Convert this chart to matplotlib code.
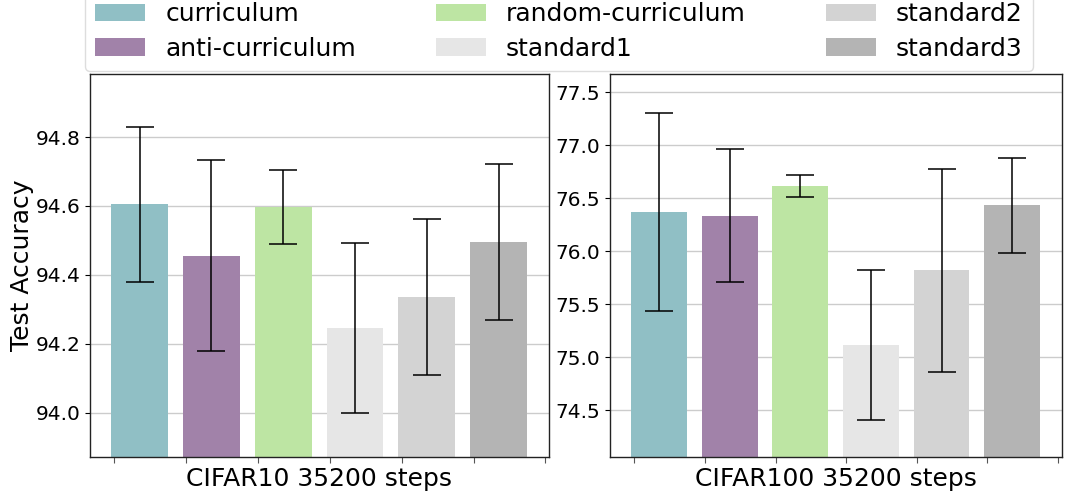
import matplotlib
matplotlib.use("Agg")
import matplotlib.pyplot as plt
import numpy as np

methods = ["curriculum", "anti-curriculum", "random-curriculum",
           "standard1", "standard2", "standard3"]
colors = ["#90bfc5", "#a182a9", "#bde5a3", "#e6e6e6", "#d3d3d3", "#b4b4b4"]

c10_mean = [94.605, 94.455, 94.597, 94.247, 94.335, 94.495]
c10_err = [0.225, 0.277, 0.106, 0.247, 0.226, 0.226]

c100_mean = [76.37, 76.335, 76.615, 75.112, 75.82, 76.432]
c100_err = [0.936, 0.627, 0.100, 0.708, 0.955, 0.446]

xlabels = ["CIFAR10 35200 steps", "CIFAR100 35200 steps"]
ylabel = "Test Accuracy"

fig = plt.figure(figsize=(10.8, 5.04), dpi=100)
ax1 = fig.add_axes([0.0833, 0.0933, 0.425, 0.760])
ax2 = fig.add_axes([0.565, 0.0933, 0.418, 0.760])

x = np.arange(len(methods))
handles = []
for ax, means, errs, xl, ylim, yt in [
    (ax1, c10_mean, c10_err, xlabels[0], (93.872, 94.983), [94.0, 94.2, 94.4, 94.6, 94.8]),
    (ax2, c100_mean, c100_err, xlabels[1], (74.059, 77.673), [74.5, 75.0, 75.5, 76.0, 76.5, 77.0, 77.5]),
]:
    ax.set_axisbelow(True)
    ax.yaxis.grid(True, color="#cccccc", linewidth=1)
    bars = ax.bar(x, means, width=0.79, color=colors, zorder=2)
    ax.errorbar(x, means, yerr=errs, fmt="none", ecolor="black",
                elinewidth=1.1, capsize=10, capthick=1.1, zorder=3)
    ax.set_ylim(*ylim)
    ax.set_xlim(-0.69, 5.70)
    ax.set_yticks(yt)
    ax.set_xticks(np.arange(7) - 0.35)
    ax.set_xticklabels([""] * 7)
    ax.tick_params(axis="x", length=4, color="#555555")
    ax.tick_params(axis="y", labelsize=14.5)
    ax.set_xlabel(xl, fontsize=18, labelpad=0)
    for s in ax.spines.values():
        s.set_color("#222222")
        s.set_linewidth(1)
    if not handles:
        handles = list(bars)

ax1.set_ylabel(ylabel, fontsize=18, labelpad=1)

leg = fig.legend(handles, methods, loc="upper center", ncol=3,
                 bbox_to_anchor=(0.5176, 1.04), fontsize=18,
                 handlelength=2.0, handleheight=0.7, columnspacing=3.2,
                 labelspacing=0.42, framealpha=1.0, edgecolor="#dddddd")
leg.set_zorder(10)

fig.savefig("out.png", dpi=100)
